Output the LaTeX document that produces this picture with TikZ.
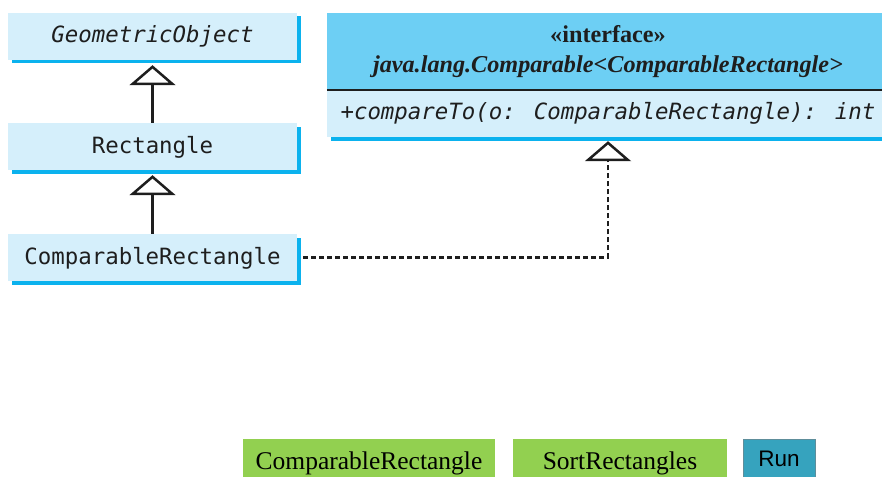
\documentclass[tikz,border=0pt]{standalone}
\usepackage{fontspec}
\setmainfont{Liberation Serif}
\newfontfamily\umlmono{DejaVu Sans Mono}
\newfontfamily\btnsans{Liberation Sans}
\usetikzlibrary{arrows.meta,shadows}

\definecolor{classfill}{HTML}{D5EFFB}
\definecolor{shadowcyan}{HTML}{0BB2EE}
\definecolor{headfill}{HTML}{6DCFF4}
\definecolor{inkdark}{HTML}{1E1E1E}
\definecolor{btngreen}{HTML}{92D050}
\definecolor{btnteal}{HTML}{36A3BE}
\definecolor{btnedge}{HTML}{5E8E9B}

\begin{document}
\begin{tikzpicture}[x=1pt,y=-1pt,
  cshadow/.style={drop shadow={shadow xshift=4pt,shadow yshift=-3.5pt,fill=shadowcyan,opacity=1}},
  classbox/.style={fill=classfill,draw=none,minimum width=289pt,minimum height=47pt,
    inner sep=0pt,text height=16pt,text depth=3pt,text=inkdark,
    font=\umlmono\fontsize{22.4}{26}\selectfont,cshadow},
  ifacehead/.style={fill=headfill,draw=none,minimum width=562pt,minimum height=77pt,
    inner sep=0pt,align=center,text=inkdark,font=\fontsize{24.2}{30}\selectfont\bfseries},
  ifacebody/.style={fill=classfill,draw=none,minimum width=562pt,minimum height=47pt,
    inner sep=0pt,text height=16pt,text depth=3pt,text=inkdark,
    font=\umlmono\itshape\fontsize{22.4}{26}\selectfont,cshadow},
  inherit/.style={draw=inkdark,line width=2.5pt,-{Triangle[open,width=46pt,length=20pt]}},
  realize/.style={inherit,dash pattern=on 5pt off 3pt},
  greenbtn/.style={fill=btngreen,draw=none,minimum height=48pt,inner sep=0pt,
    font=\fontsize{25.5}{28}\selectfont},
  runbtn/.style={fill=btnteal,draw=btnedge,line width=0.8pt,minimum height=40pt,inner sep=0pt,
    font=\btnsans\fontsize{22.5}{26}\selectfont}
]
\useasboundingbox (0,0) rectangle (882,476);

% class hierarchy
\node[classbox] (GO) at (152.5,36.5) {\itshape GeometricObject};
\node[classbox] (Rect) at (152.5,146.5) {Rectangle};
\node[classbox] (CR) at (152.5,257.5) {ComparableRectangle};

% interface box: name compartment and method compartment
\node[ifacebody] (ifb) at (608,113.5) {+compareTo(o: ComparableRectangle): int};
\node[ifacehead] (ifh) at (608,51.5)
  {\raisebox{-2pt}{«interface»}\\\raisebox{-2pt}{\itshape java.lang.Comparable<ComparableRectangle>}};
\draw[inkdark,line width=1.5pt] (ifh.south west) -- (ifh.south east);

% generalization and realization arrows
\draw[inherit] (Rect.north) -- ([yshift=-5pt]GO.south);
\draw[inherit] (CR.north) -- ([yshift=-5pt]Rect.south);
\coordinate (itip) at ([yshift=-4pt]ifb.south);
\coordinate (crout) at ([xshift=6pt]CR.east);
\draw[realize] (crout) -| (itip);

% source buttons
\node[greenbtn,minimum width=252pt] (btnA) at (369,463) {ComparableRectangle};
\node[greenbtn,minimum width=214pt] (btnB) at (620,463) {SortRectangles};
\node[runbtn,minimum width=72pt] (btnRun) at (779,459) {Run};
\end{tikzpicture}
\end{document}
